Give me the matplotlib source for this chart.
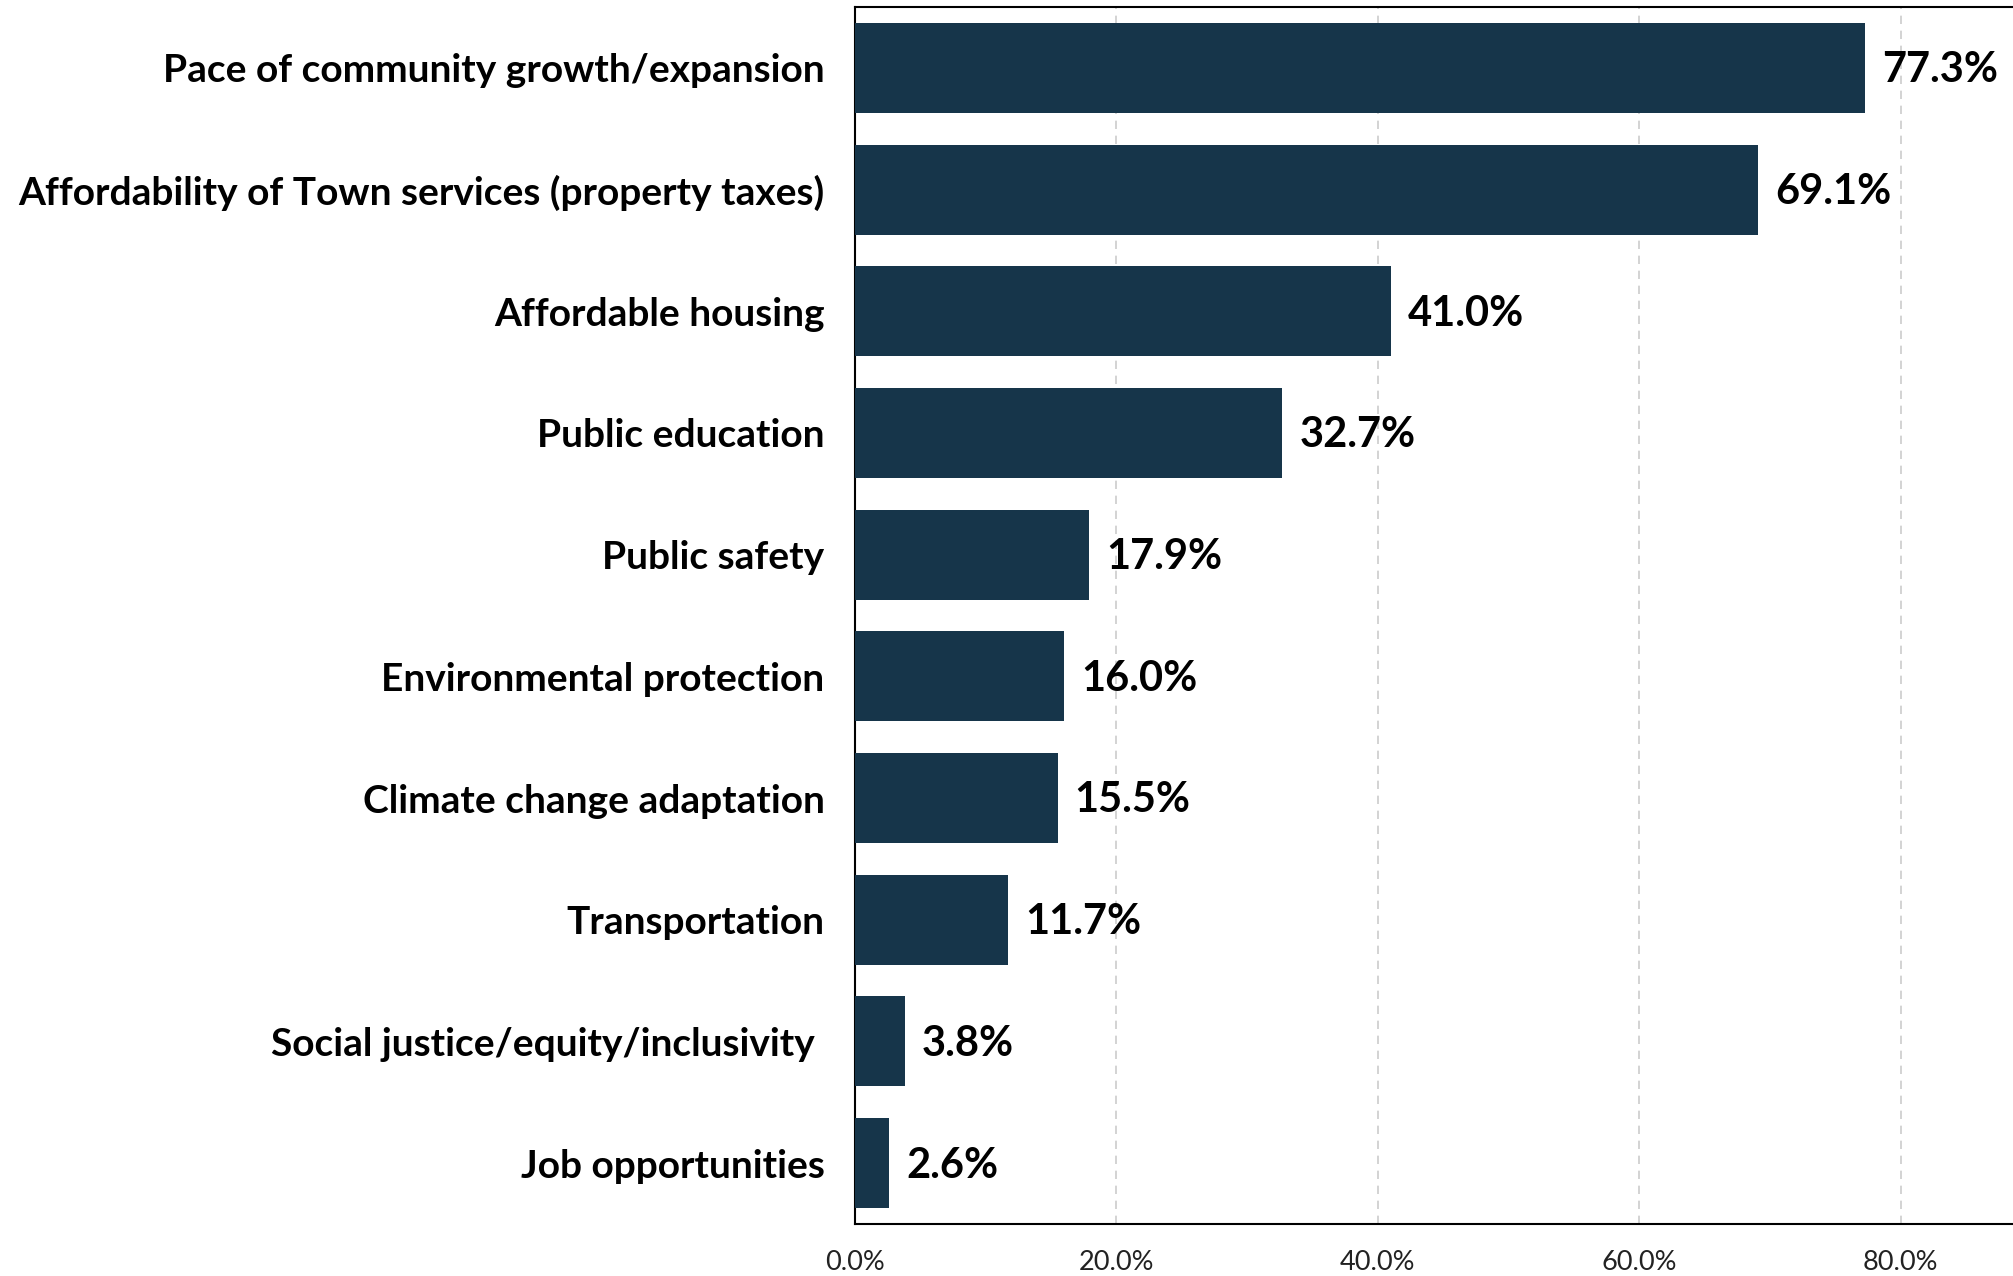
import numpy as np
import matplotlib
matplotlib.use('Agg')
import matplotlib.pyplot as plt
from matplotlib.ticker import FuncFormatter

plt.rcParams['font.family'] = ['Lato', 'DejaVu Sans']

CATEGORIES = [
    'Pace of community growth/expansion',
    'Affordability of Town services (property taxes)',
    'Affordable housing',
    'Public education',
    'Public safety',
    'Environmental protection',
    'Climate change adaptation',
    'Transportation',
    'Social justice/equity/inclusivity ',
    'Job opportunities',
]
VALUES = [77.3, 69.1, 41.0, 32.7, 17.9, 16.0, 15.5, 11.7, 3.8, 2.6]
XTICKS = [0, 20, 40, 60, 80]

BAR_COLOR = '#16354a'

fig = plt.figure(figsize=(20.13, 12.76), dpi=100)
ax = fig.add_axes([855 / 2013, 1 - 1224 / 1276, 1 - 855 / 2013, (1224 - 7) / 1276])

y = np.arange(len(CATEGORIES))
ax.barh(y, VALUES, height=0.74, color=BAR_COLOR, zorder=3)
for yi, v in zip(y, VALUES):
    ax.text(v + 1.3, yi + 0.02, f'{v:.1f}%', va='center', ha='left',
            fontsize=30, fontweight='bold', color='black', zorder=4)

ax.set_ylim(len(CATEGORIES) - 0.5, -0.5)
ax.set_xlim(0, 88.6)
ax.set_yticks(y)
ax.set_yticklabels(CATEGORIES, fontsize=28, fontweight='bold')
ax.set_xticks(XTICKS)
ax.xaxis.set_major_formatter(FuncFormatter(lambda v, p: f'{v:.1f}%'))
ax.tick_params(axis='x', length=0, pad=19, labelsize=19.5, colors='#222222')
ax.tick_params(axis='y', length=0, pad=22)
ax.grid(axis='x', color='#cccccc', linestyle=(0, (5, 4)), linewidth=1.2, zorder=0)
for side in ('left', 'top', 'bottom'):
    ax.spines[side].set_color('black')
    ax.spines[side].set_linewidth(1.5)
ax.spines['right'].set_visible(False)

fig.savefig('out.png', dpi=100)
